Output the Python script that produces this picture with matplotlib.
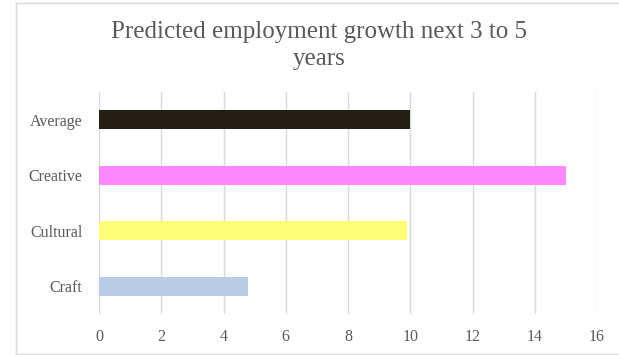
import matplotlib.pyplot as plt
from matplotlib.lines import Line2D

categories = ['Craft', 'Cultural', 'Creative', 'Average']
values = [4.8, 9.9, 15.0, 10.0]
colors = ['#b9cde5', '#ffff77', '#ff88ff', '#231f14']
xticks = [0, 2, 4, 6, 8, 10, 12, 14, 16]

plt.rcParams['font.family'] = ['Liberation Serif', 'DejaVu Serif']

fig = plt.figure(figsize=(6.19, 3.55), dpi=100)
# chart border (left, top, bottom only; right side cut off)
fig.lines.append(Line2D([16/619, 16/619], [1 - 3/355, 1 - 354/355], transform=fig.transFigure, color='#d9d9d9', lw=1))
fig.lines.append(Line2D([16/619, 1.0], [1 - 3/355, 1 - 3/355], transform=fig.transFigure, color='#d9d9d9', lw=1))
fig.lines.append(Line2D([16/619, 1.0], [1 - 354/355, 1 - 354/355], transform=fig.transFigure, color='#d9d9d9', lw=1))

ax = fig.add_axes([99/619, 1 - 314/355, (597 - 99)/619, (314 - 92)/355])
ax.barh(range(len(categories)), values, height=0.35, color=colors, zorder=3)
ax.set_xlim(0, 16)
ax.set_ylim(-0.5, len(categories) - 0.5)
ax.set_xticks(xticks)
ax.set_yticks(range(len(categories)))
ax.set_yticklabels(categories)
ax.grid(axis='x', color='#d9d9d9', linewidth=1, zorder=0)
for s in ax.spines.values():
    s.set_visible(False)
ax.tick_params(length=0, labelsize=11.5, colors='#595959', pad=11)
ax.tick_params(axis='y', pad=12)

fig.text(319/619, 1 - 38/355, 'Predicted employment growth next 3 to 5', ha='center', va='baseline',
         fontsize=18, color='#595959')
fig.text(319/619, 1 - 65/355, 'years', ha='center', va='baseline',
         fontsize=18, color='#595959')

fig.savefig('out.png', dpi=100)
